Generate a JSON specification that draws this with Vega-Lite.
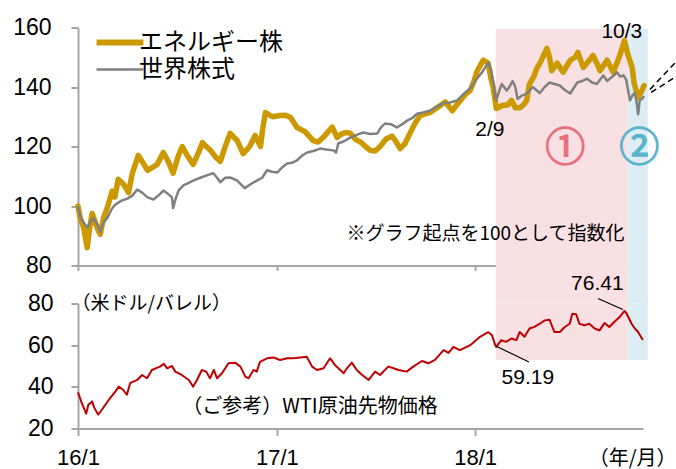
{
"$schema":"https://vega.github.io/schema/vega-lite/v6.json",
"padding":{"left":12,"top":16.5,"right":0,"bottom":0},
"autosize":{"type":"pad"},
"background":"white",
"spacing":38,
"bounds":"flush",
"config":{
 "view":{"stroke":null},
 "axis":{"domainColor":"#A6A6A6","domainWidth":2,"tickColor":"#A6A6A6","tickWidth":2,"grid":false,"labelFont":"Liberation Sans","labelFontSize":23,"labelColor":"#000000","zindex":1},
 "legend":{"labelFont":"Noto Sans CJK JP","labelFontSize":24,"labelColor":"#000000","labelLimit":300}
},
"datasets":{
"shades":[{"period":"①","start":"2018-02-08","end":"2018-10-09"},{"period":"②","start":"2018-10-09","end":"2018-11-15"}],
"stocks":[
{"date":"2016-01-01","series":"エネルギー株","value":100},
{"date":"2016-01-05","series":"エネルギー株","value":96},
{"date":"2016-01-11","series":"エネルギー株","value":93},
{"date":"2016-01-14","series":"エネルギー株","value":90},
{"date":"2016-01-18","series":"エネルギー株","value":86},
{"date":"2016-01-22","series":"エネルギー株","value":92},
{"date":"2016-01-27","series":"エネルギー株","value":97.5},
{"date":"2016-02-01","series":"エネルギー株","value":95},
{"date":"2016-02-07","series":"エネルギー株","value":91.8},
{"date":"2016-02-11","series":"エネルギー株","value":90.5},
{"date":"2016-02-17","series":"エネルギー株","value":96},
{"date":"2016-02-24","series":"エネルギー株","value":99.5},
{"date":"2016-03-04","series":"エネルギー株","value":105},
{"date":"2016-03-09","series":"エネルギー株","value":103},
{"date":"2016-03-15","series":"エネルギー株","value":109},
{"date":"2016-03-24","series":"エネルギー株","value":107.5},
{"date":"2016-04-03","series":"エネルギー株","value":104.5},
{"date":"2016-04-10","series":"エネルギー株","value":111},
{"date":"2016-04-21","series":"エネルギー株","value":117},
{"date":"2016-04-28","series":"エネルギー株","value":115},
{"date":"2016-05-08","series":"エネルギー株","value":112},
{"date":"2016-05-17","series":"エネルギー株","value":113},
{"date":"2016-05-26","series":"エネルギー株","value":114},
{"date":"2016-06-06","series":"エネルギー株","value":118},
{"date":"2016-06-15","series":"エネルギー株","value":115},
{"date":"2016-06-24","series":"エネルギー株","value":111},
{"date":"2016-07-04","series":"エネルギー株","value":117},
{"date":"2016-07-11","series":"エネルギー株","value":120},
{"date":"2016-07-20","series":"エネルギー株","value":117},
{"date":"2016-07-31","series":"エネルギー株","value":114},
{"date":"2016-08-10","series":"エネルギー株","value":118},
{"date":"2016-08-17","series":"エネルギー株","value":121.3},
{"date":"2016-08-24","series":"エネルギー株","value":120},
{"date":"2016-09-01","series":"エネルギー株","value":118.7},
{"date":"2016-09-10","series":"エネルギー株","value":116.5},
{"date":"2016-09-19","series":"エネルギー株","value":115},
{"date":"2016-09-28","series":"エネルギー株","value":120},
{"date":"2016-10-07","series":"エネルギー株","value":124.4},
{"date":"2016-10-20","series":"エネルギー株","value":122},
{"date":"2016-10-31","series":"エネルギー株","value":117.6},
{"date":"2016-11-12","series":"エネルギー株","value":120},
{"date":"2016-11-22","series":"エネルギー株","value":123.7},
{"date":"2016-12-02","series":"エネルギー株","value":120},
{"date":"2016-12-06","series":"エネルギー株","value":126},
{"date":"2016-12-11","series":"エネルギー株","value":131.4},
{"date":"2016-12-24","series":"エネルギー株","value":130},
{"date":"2017-01-07","series":"エネルギー株","value":130.4},
{"date":"2017-01-17","series":"エネルギー株","value":130.5},
{"date":"2017-01-26","series":"エネルギー株","value":129.8},
{"date":"2017-02-07","series":"エネルギー株","value":126.4},
{"date":"2017-02-22","series":"エネルギー株","value":125},
{"date":"2017-03-09","series":"エネルギー株","value":122},
{"date":"2017-03-18","series":"エネルギー株","value":121.5},
{"date":"2017-03-27","series":"エネルギー株","value":123},
{"date":"2017-04-13","series":"エネルギー株","value":126.5},
{"date":"2017-04-22","series":"エネルギー株","value":123},
{"date":"2017-04-28","series":"エネルギー株","value":124},
{"date":"2017-05-07","series":"エネルギー株","value":124.7},
{"date":"2017-05-16","series":"エネルギー株","value":124.5},
{"date":"2017-05-25","series":"エネルギー株","value":122.5},
{"date":"2017-06-04","series":"エネルギー株","value":121.5},
{"date":"2017-06-13","series":"エネルギー株","value":120},
{"date":"2017-06-22","series":"エネルギー株","value":118.7},
{"date":"2017-07-01","series":"エネルギー株","value":118.5},
{"date":"2017-07-10","series":"エネルギー株","value":120},
{"date":"2017-07-21","series":"エネルギー株","value":122.5},
{"date":"2017-08-01","series":"エネルギー株","value":123.5},
{"date":"2017-08-09","series":"エネルギー株","value":121.5},
{"date":"2017-08-16","series":"エネルギー株","value":119.3},
{"date":"2017-08-25","series":"エネルギー株","value":121},
{"date":"2017-09-03","series":"エネルギー株","value":124.4},
{"date":"2017-09-13","series":"エネルギー株","value":128},
{"date":"2017-09-22","series":"エネルギー株","value":130.4},
{"date":"2017-10-01","series":"エネルギー株","value":131},
{"date":"2017-10-10","series":"エネルギー株","value":131.4},
{"date":"2017-10-23","series":"エネルギー株","value":133},
{"date":"2017-11-07","series":"エネルギー株","value":135},
{"date":"2017-11-20","series":"エネルギー株","value":132},
{"date":"2017-11-28","series":"エネルギー株","value":134},
{"date":"2017-12-05","series":"エネルギー株","value":135.5},
{"date":"2017-12-14","series":"エネルギー株","value":137.5},
{"date":"2017-12-23","series":"エネルギー株","value":138.8},
{"date":"2017-12-30","series":"エネルギー株","value":142},
{"date":"2018-01-05","series":"エネルギー株","value":145.5},
{"date":"2018-01-16","series":"エネルギー株","value":149},
{"date":"2018-01-25","series":"エネルギー株","value":148},
{"date":"2018-01-30","series":"エネルギー株","value":143},
{"date":"2018-02-03","series":"エネルギー株","value":140},
{"date":"2018-02-09","series":"エネルギー株","value":132.8},
{"date":"2018-02-20","series":"エネルギー株","value":133.8},
{"date":"2018-03-02","series":"エネルギー株","value":134},
{"date":"2018-03-09","series":"エネルギー株","value":135.5},
{"date":"2018-03-16","series":"エネルギー株","value":133},
{"date":"2018-03-24","series":"エネルギー株","value":133},
{"date":"2018-03-31","series":"エネルギー株","value":134},
{"date":"2018-04-06","series":"エネルギー株","value":135.5},
{"date":"2018-04-11","series":"エネルギー株","value":141},
{"date":"2018-04-19","series":"エネルギー株","value":143.5},
{"date":"2018-04-24","series":"エネルギー株","value":146},
{"date":"2018-05-03","series":"エネルギー株","value":149},
{"date":"2018-05-13","series":"エネルギー株","value":153},
{"date":"2018-05-18","series":"エネルギー株","value":150},
{"date":"2018-05-22","series":"エネルギー株","value":145.5},
{"date":"2018-06-01","series":"エネルギー株","value":148},
{"date":"2018-06-12","series":"エネルギー株","value":145},
{"date":"2018-06-25","series":"エネルギー株","value":149},
{"date":"2018-07-04","series":"エネルギー株","value":150},
{"date":"2018-07-09","series":"エネルギー株","value":151.6},
{"date":"2018-07-19","series":"エネルギー株","value":146.6},
{"date":"2018-07-28","series":"エネルギー株","value":148.5},
{"date":"2018-08-06","series":"エネルギー株","value":150.6},
{"date":"2018-08-13","series":"エネルギー株","value":148},
{"date":"2018-08-19","series":"エネルギー株","value":145.5},
{"date":"2018-09-01","series":"エネルギー株","value":149},
{"date":"2018-09-12","series":"エネルギー株","value":145},
{"date":"2018-09-19","series":"エネルギー株","value":148},
{"date":"2018-09-25","series":"エネルギー株","value":151},
{"date":"2018-10-03","series":"エネルギー株","value":155.6},
{"date":"2018-10-09","series":"エネルギー株","value":151},
{"date":"2018-10-17","series":"エネルギー株","value":146.6},
{"date":"2018-10-21","series":"エネルギー株","value":141},
{"date":"2018-10-28","series":"エネルギー株","value":136.5},
{"date":"2018-11-04","series":"エネルギー株","value":138.8},
{"date":"2018-11-08","series":"エネルギー株","value":140.5},
{"date":"2016-01-01","series":"世界株式","value":100},
{"date":"2016-01-05","series":"世界株式","value":96.5},
{"date":"2016-01-11","series":"世界株式","value":94.5},
{"date":"2016-01-18","series":"世界株式","value":92.8},
{"date":"2016-01-29","series":"世界株式","value":96},
{"date":"2016-02-05","series":"世界株式","value":94},
{"date":"2016-02-11","series":"世界株式","value":91.3},
{"date":"2016-02-17","series":"世界株式","value":94.5},
{"date":"2016-02-24","series":"世界株式","value":96},
{"date":"2016-03-03","series":"世界株式","value":99},
{"date":"2016-03-10","series":"世界株式","value":100.5},
{"date":"2016-03-21","series":"世界株式","value":101.8},
{"date":"2016-04-01","series":"世界株式","value":102.5},
{"date":"2016-04-10","series":"世界株式","value":103.5},
{"date":"2016-04-19","series":"世界株式","value":105.5},
{"date":"2016-04-28","series":"世界株式","value":104.5},
{"date":"2016-05-08","series":"世界株式","value":102.9},
{"date":"2016-05-19","series":"世界株式","value":102.2},
{"date":"2016-05-28","series":"世界株式","value":103.5},
{"date":"2016-06-06","series":"世界株式","value":105.2},
{"date":"2016-06-15","series":"世界株式","value":104},
{"date":"2016-06-22","series":"世界株式","value":102.9},
{"date":"2016-06-24","series":"世界株式","value":99.3},
{"date":"2016-06-28","series":"世界株式","value":102},
{"date":"2016-07-04","series":"世界株式","value":105.2},
{"date":"2016-07-13","series":"世界株式","value":106.9},
{"date":"2016-07-20","series":"世界株式","value":107.5},
{"date":"2016-07-31","series":"世界株式","value":108.5},
{"date":"2016-08-13","series":"世界株式","value":109.5},
{"date":"2016-08-25","series":"世界株式","value":110.3},
{"date":"2016-09-06","series":"世界株式","value":111},
{"date":"2016-09-13","series":"世界株式","value":109.5},
{"date":"2016-09-19","series":"世界株式","value":108},
{"date":"2016-09-28","series":"世界株式","value":109.5},
{"date":"2016-10-07","series":"世界株式","value":109.6},
{"date":"2016-10-20","series":"世界株式","value":108.5},
{"date":"2016-11-03","series":"世界株式","value":106},
{"date":"2016-11-15","series":"世界株式","value":107.5},
{"date":"2016-11-26","series":"世界株式","value":108.6},
{"date":"2016-12-05","series":"世界株式","value":109.5},
{"date":"2016-12-14","series":"世界株式","value":112},
{"date":"2016-12-23","series":"世界株式","value":111.5},
{"date":"2017-01-02","series":"世界株式","value":111.3},
{"date":"2017-01-11","series":"世界株式","value":113},
{"date":"2017-01-20","series":"世界株式","value":114.3},
{"date":"2017-01-29","series":"世界株式","value":114.5},
{"date":"2017-02-07","series":"世界株式","value":115.3},
{"date":"2017-02-17","series":"世界株式","value":117},
{"date":"2017-02-26","series":"世界株式","value":118},
{"date":"2017-03-09","series":"世界株式","value":118.5},
{"date":"2017-03-22","series":"世界株式","value":119.3},
{"date":"2017-04-02","series":"世界株式","value":119},
{"date":"2017-04-15","series":"世界株式","value":118.7},
{"date":"2017-04-20","series":"世界株式","value":118},
{"date":"2017-04-24","series":"世界株式","value":121},
{"date":"2017-05-07","series":"世界株式","value":122},
{"date":"2017-05-16","series":"世界株式","value":123},
{"date":"2017-05-29","series":"世界株式","value":124},
{"date":"2017-06-09","series":"世界株式","value":124.7},
{"date":"2017-06-22","series":"世界株式","value":124.2},
{"date":"2017-07-05","series":"世界株式","value":124.4},
{"date":"2017-07-12","series":"世界株式","value":126.5},
{"date":"2017-07-19","series":"世界株式","value":127.7},
{"date":"2017-07-30","series":"世界株式","value":127.5},
{"date":"2017-08-10","series":"世界株式","value":126.4},
{"date":"2017-08-20","series":"世界株式","value":127.5},
{"date":"2017-08-29","series":"世界株式","value":128.7},
{"date":"2017-09-07","series":"世界株式","value":129.5},
{"date":"2017-09-16","series":"世界株式","value":131},
{"date":"2017-09-27","series":"世界株式","value":131.4},
{"date":"2017-10-10","series":"世界株式","value":132},
{"date":"2017-10-23","series":"世界株式","value":133.5},
{"date":"2017-11-03","series":"世界株式","value":134.5},
{"date":"2017-11-16","series":"世界株式","value":134.8},
{"date":"2017-11-29","series":"世界株式","value":135.5},
{"date":"2017-12-10","series":"世界株式","value":137.5},
{"date":"2017-12-23","series":"世界株式","value":139.5},
{"date":"2018-01-03","series":"世界株式","value":142.5},
{"date":"2018-01-14","series":"世界株式","value":145},
{"date":"2018-01-25","series":"世界株式","value":148.2},
{"date":"2018-01-30","series":"世界株式","value":146},
{"date":"2018-02-03","series":"世界株式","value":142},
{"date":"2018-02-07","series":"世界株式","value":137},
{"date":"2018-02-09","series":"世界株式","value":135.5},
{"date":"2018-02-15","series":"世界株式","value":139},
{"date":"2018-02-19","series":"世界株式","value":141},
{"date":"2018-02-28","series":"世界株式","value":138.8},
{"date":"2018-03-05","series":"世界株式","value":140},
{"date":"2018-03-11","series":"世界株式","value":142},
{"date":"2018-03-16","series":"世界株式","value":140},
{"date":"2018-03-20","series":"世界株式","value":136},
{"date":"2018-03-27","series":"世界株式","value":137},
{"date":"2018-04-06","series":"世界株式","value":137.8},
{"date":"2018-04-17","series":"世界株式","value":140},
{"date":"2018-04-30","series":"世界株式","value":138},
{"date":"2018-05-09","series":"世界株式","value":140},
{"date":"2018-05-18","series":"世界株式","value":141.5},
{"date":"2018-05-27","series":"世界株式","value":141},
{"date":"2018-06-06","series":"世界株式","value":140.5},
{"date":"2018-06-15","series":"世界株式","value":139},
{"date":"2018-06-25","series":"世界株式","value":137.8},
{"date":"2018-07-08","series":"世界株式","value":141.5},
{"date":"2018-07-17","series":"世界株式","value":142},
{"date":"2018-07-26","series":"世界株式","value":142.8},
{"date":"2018-08-04","series":"世界株式","value":141.5},
{"date":"2018-08-13","series":"世界株式","value":141},
{"date":"2018-08-25","series":"世界株式","value":143.9},
{"date":"2018-09-01","series":"世界株式","value":142},
{"date":"2018-09-06","series":"世界株式","value":142.8},
{"date":"2018-09-14","series":"世界株式","value":144},
{"date":"2018-09-19","series":"世界株式","value":145},
{"date":"2018-09-25","series":"世界株式","value":143.5},
{"date":"2018-10-01","series":"世界株式","value":143.9},
{"date":"2018-10-06","series":"世界株式","value":142.5},
{"date":"2018-10-09","series":"世界株式","value":139.5},
{"date":"2018-10-13","series":"世界株式","value":135.5},
{"date":"2018-10-17","series":"世界株式","value":137},
{"date":"2018-10-22","series":"世界株式","value":138},
{"date":"2018-10-26","series":"世界株式","value":134},
{"date":"2018-10-28","series":"世界株式","value":130.8},
{"date":"2018-10-31","series":"世界株式","value":135.5},
{"date":"2018-11-04","series":"世界株式","value":136},
{"date":"2018-11-08","series":"世界株式","value":137}
],
"wti":[
{"date":"2016-01-01","value":37.3},
{"date":"2016-01-08","value":32.2},
{"date":"2016-01-16","value":27.1},
{"date":"2016-01-20","value":31.4},
{"date":"2016-01-27","value":33},
{"date":"2016-01-31","value":29.9},
{"date":"2016-02-07","value":26.7},
{"date":"2016-02-14","value":29},
{"date":"2016-02-22","value":32},
{"date":"2016-02-29","value":34.6},
{"date":"2016-03-10","value":37.8},
{"date":"2016-03-16","value":40.1},
{"date":"2016-03-24","value":38.6},
{"date":"2016-03-31","value":36.2},
{"date":"2016-04-06","value":41.8},
{"date":"2016-04-19","value":43.3},
{"date":"2016-04-28","value":45.7},
{"date":"2016-05-07","value":44.1},
{"date":"2016-05-16","value":48.1},
{"date":"2016-05-24","value":49},
{"date":"2016-05-31","value":49.7},
{"date":"2016-06-07","value":51},
{"date":"2016-06-13","value":48.9},
{"date":"2016-06-22","value":50},
{"date":"2016-06-28","value":47.3},
{"date":"2016-07-10","value":45.7},
{"date":"2016-07-23","value":43.3},
{"date":"2016-07-31","value":40.1},
{"date":"2016-08-07","value":43.3},
{"date":"2016-08-16","value":48.1},
{"date":"2016-08-24","value":47.3},
{"date":"2016-08-31","value":44.1},
{"date":"2016-09-07","value":48.1},
{"date":"2016-09-13","value":44.1},
{"date":"2016-09-22","value":46.5},
{"date":"2016-10-04","value":51.3},
{"date":"2016-10-16","value":51.6},
{"date":"2016-10-26","value":49.7},
{"date":"2016-11-04","value":44.9},
{"date":"2016-11-10","value":44.1},
{"date":"2016-11-19","value":48.1},
{"date":"2016-11-25","value":47.3},
{"date":"2016-12-01","value":52},
{"date":"2016-12-14","value":53.7},
{"date":"2016-12-26","value":54.1},
{"date":"2017-01-07","value":52.9},
{"date":"2017-01-20","value":53.7},
{"date":"2017-02-01","value":53.7},
{"date":"2017-02-13","value":54.1},
{"date":"2017-02-25","value":54.4},
{"date":"2017-03-07","value":49.7},
{"date":"2017-03-16","value":48.1},
{"date":"2017-03-28","value":48.9},
{"date":"2017-04-09","value":53.7},
{"date":"2017-04-18","value":50.5},
{"date":"2017-05-04","value":46.5},
{"date":"2017-05-10","value":48.9},
{"date":"2017-05-19","value":51.6},
{"date":"2017-05-28","value":48.1},
{"date":"2017-06-07","value":45.7},
{"date":"2017-06-19","value":43.3},
{"date":"2017-07-01","value":47.3},
{"date":"2017-07-10","value":45.7},
{"date":"2017-07-25","value":49.7},
{"date":"2017-08-04","value":48.9},
{"date":"2017-08-13","value":48.1},
{"date":"2017-08-28","value":47.3},
{"date":"2017-09-09","value":49.7},
{"date":"2017-09-25","value":52.4},
{"date":"2017-10-07","value":51.3},
{"date":"2017-10-19","value":52.9},
{"date":"2017-11-04","value":57.6},
{"date":"2017-11-13","value":56.3},
{"date":"2017-11-22","value":59.2},
{"date":"2017-12-01","value":58},
{"date":"2017-12-04","value":57.6},
{"date":"2017-12-23","value":60},
{"date":"2018-01-10","value":64},
{"date":"2018-01-25","value":66.3},
{"date":"2018-02-01","value":64.8},
{"date":"2018-02-07","value":60},
{"date":"2018-02-09","value":59.19},
{"date":"2018-02-18","value":62.4},
{"date":"2018-02-27","value":61.6},
{"date":"2018-03-09","value":63.2},
{"date":"2018-03-18","value":62.4},
{"date":"2018-03-24","value":66.3},
{"date":"2018-04-02","value":64},
{"date":"2018-04-11","value":68},
{"date":"2018-04-20","value":68.8},
{"date":"2018-04-30","value":70.3},
{"date":"2018-05-09","value":71.9},
{"date":"2018-05-18","value":72.2},
{"date":"2018-05-27","value":66.3},
{"date":"2018-06-06","value":66.3},
{"date":"2018-06-15","value":68.7},
{"date":"2018-06-24","value":70.3},
{"date":"2018-06-29","value":75.1},
{"date":"2018-07-06","value":74.8},
{"date":"2018-07-12","value":70.3},
{"date":"2018-07-21","value":69.5},
{"date":"2018-07-30","value":70.3},
{"date":"2018-08-09","value":68},
{"date":"2018-08-18","value":67.1},
{"date":"2018-08-27","value":70.6},
{"date":"2018-09-05","value":68.7},
{"date":"2018-09-14","value":71.1},
{"date":"2018-09-24","value":73.5},
{"date":"2018-10-03","value":76.41},
{"date":"2018-10-07","value":75.1},
{"date":"2018-10-16","value":70.3},
{"date":"2018-10-22","value":68},
{"date":"2018-10-28","value":66.3},
{"date":"2018-11-04","value":63.2},
{"date":"2018-11-06","value":62.5}
]
},
"vconcat":[
{
"width":565,"height":238,
"layer":[
 {"data":{"name":"shades"},"mark":{"type":"rect"},
  "encoding":{
   "x":{"field":"start","type":"temporal","scale":{"type":"utc","domain":[{"year":2016,"month":1,"date":1,"utc":true},{"year":2018,"month":11,"date":6,"utc":true}]},
        "axis":{"title":null,"values":[{"year":2016,"month":1,"date":1,"utc":true},{"year":2017,"month":1,"date":1,"utc":true},{"year":2018,"month":1,"date":1,"utc":true}],"labels":false,"tickSize":5}},
   "x2":{"field":"end"},
   "y":{"datum":159.5,"type":"quantitative","scale":{"domain":[80,160],"nice":false},
        "axis":{"title":null,"values":[80,100,120,140,160],"tickSize":7,"labelPadding":20}},
   "y2":{"datum":67.2},
   "fill":{"field":"period","type":"nominal","scale":{"domain":["①","②"],"range":["#F9E0E3","#DCEEF3"]},"legend":null}
  }},
 {"data":{"name":"stocks"},"transform":[{"filter":"datum.series === 'エネルギー株'"}],
  "mark":{"type":"line","strokeWidth":5.5,"strokeCap":"round","strokeJoin":"round"},
  "encoding":{
   "x":{"field":"date","type":"temporal","title":null,"scale":{"type":"utc","domain":[{"year":2016,"month":1,"date":1,"utc":true},{"year":2018,"month":11,"date":6,"utc":true}]}},
   "y":{"field":"value","type":"quantitative","title":null,"scale":{"domain":[80,160],"nice":false}},
   "color":{"field":"series","type":"nominal","scale":{"domain":["エネルギー株","世界株式"],"range":["#CC9900","#808080"]},
     "legend":{"orient":"none","legendX":30,"legendY":3,"title":null,"labelFont":"Noto Sans CJK JP","labelFontSize":24,"labelColor":"#000000","symbolType":"stroke","symbolSize":2200,"symbolStrokeWidth":4,"labelOffset":7,"rowPadding":3,"padding":0,
       "encode":{"symbols":{"update":{"strokeWidth":{"signal":"datum.value === 'エネルギー株' ? 6 : 2.5"}}}}}}
  }},
 {"data":{"name":"stocks"},"transform":[{"filter":"datum.series === '世界株式'"}],
  "mark":{"type":"line","strokeWidth":2.5,"strokeJoin":"round"},
  "encoding":{
   "x":{"field":"date","type":"temporal","title":null,"scale":{"type":"utc","domain":[{"year":2016,"month":1,"date":1,"utc":true},{"year":2018,"month":11,"date":6,"utc":true}]}},
   "y":{"field":"value","type":"quantitative","title":null,"scale":{"domain":[80,160],"nice":false}},
   "color":{"field":"series","type":"nominal","scale":{"domain":["エネルギー株","世界株式"],"range":["#CC9900","#808080"]},
     "legend":{"orient":"none","legendX":30,"legendY":3,"title":null,"labelFont":"Noto Sans CJK JP","labelFontSize":24,"labelColor":"#000000","symbolType":"stroke","symbolSize":2200,"symbolStrokeWidth":4,"labelOffset":7,"rowPadding":3,"padding":0,
       "encode":{"symbols":{"update":{"strokeWidth":{"signal":"datum.value === 'エネルギー株' ? 6 : 2.5"}}}}}}
  }},
 {"data":{"values":[{"label":"10/3","date":"2018-09-28","value":158.6},{"label":"2/9","date":"2018-01-28","value":125.5}]},
  "mark":{"type":"text","font":"Liberation Sans","fontSize":21,"align":"center","baseline":"middle","color":"#000000"},
  "encoding":{
   "x":{"field":"date","type":"temporal","title":null,"scale":{"type":"utc","domain":[{"year":2016,"month":1,"date":1,"utc":true},{"year":2018,"month":11,"date":6,"utc":true}]}},
   "y":{"field":"value","type":"quantitative","title":null,"scale":{"domain":[80,160],"nice":false}},
   "text":{"field":"label"}}},
 {"data":{"values":[{"label":"①","date":"2018-06-16","value":119}]},
  "mark":{"type":"text","font":"Noto Sans CJK JP","fontSize":40,"align":"center","baseline":"middle","color":"#E8707F","stroke":"#E8707F","strokeWidth":1.3},
  "encoding":{
   "x":{"field":"date","type":"temporal","title":null,"scale":{"type":"utc","domain":[{"year":2016,"month":1,"date":1,"utc":true},{"year":2018,"month":11,"date":6,"utc":true}]}},
   "y":{"field":"value","type":"quantitative","title":null,"scale":{"domain":[80,160],"nice":false}},
   "text":{"field":"label"}}},
 {"data":{"values":[{"label":"②","date":"2018-10-30","value":119}]},
  "mark":{"type":"text","font":"Noto Sans CJK JP","fontSize":40,"align":"center","baseline":"middle","color":"#5BB4CE","stroke":"#5BB4CE","strokeWidth":1.3},
  "encoding":{
   "x":{"field":"date","type":"temporal","title":null,"scale":{"type":"utc","domain":[{"year":2016,"month":1,"date":1,"utc":true},{"year":2018,"month":11,"date":6,"utc":true}]}},
   "y":{"field":"value","type":"quantitative","title":null,"scale":{"domain":[80,160],"nice":false}},
   "text":{"field":"label"}}},
 {"data":{"values":[{"label":"※グラフ起点を100として指数化","date":"2017-05-09","value":90.75}]},
  "mark":{"type":"text","font":"Noto Sans CJK JP","fontSize":19,"align":"left","baseline":"middle","color":"#000000"},
  "encoding":{
   "x":{"field":"date","type":"temporal","title":null,"scale":{"type":"utc","domain":[{"year":2016,"month":1,"date":1,"utc":true},{"year":2018,"month":11,"date":6,"utc":true}]}},
   "y":{"field":"value","type":"quantitative","title":null,"scale":{"domain":[80,160],"nice":false}},
   "text":{"field":"label"}}},
 {"data":{"values":[{"from":"2018-11-19","fromValue":139.2,"to":"2019-01-06","toValue":148.5},{"from":"2018-11-21","fromValue":138.2,"to":"2019-01-06","toValue":143.5}]},
  "mark":{"type":"rule","color":"#000000","strokeWidth":1.5,"strokeDash":[6,4]},
  "encoding":{
   "x":{"field":"from","type":"temporal","title":null,"scale":{"type":"utc","domain":[{"year":2016,"month":1,"date":1,"utc":true},{"year":2018,"month":11,"date":6,"utc":true}]}},
   "x2":{"field":"to"},
   "y":{"field":"fromValue","type":"quantitative","title":null,"scale":{"domain":[80,160],"nice":false}},
   "y2":{"field":"toValue"}}}
]
},
{
"width":565,"height":125,
"layer":[
 {"data":{"name":"shades"},"mark":{"type":"rect"},
  "encoding":{
   "x":{"field":"start","type":"temporal","scale":{"type":"utc","domain":[{"year":2016,"month":1,"date":1,"utc":true},{"year":2018,"month":11,"date":6,"utc":true}]},
        "axis":{"title":"（年/月）","values":[{"year":2016,"month":1,"date":1,"utc":true},{"year":2017,"month":1,"date":1,"utc":true},{"year":2018,"month":1,"date":1,"utc":true}],"labelExpr":"utcFormat(datum.value, '%y/%-m')","labelFlush":false,"labelOverlap":false,"labelFontSize":22,"tickSize":7,"labelPadding":12,
          "titleX":598,"titleY":30,"titleAlign":"right","titleBaseline":"middle","titleFont":"Noto Sans CJK JP","titleFontSize":20,"titleFontWeight":"normal","titleColor":"#000000"}},
   "x2":{"field":"end"},
   "y":{"datum":80,"type":"quantitative","scale":{"domain":[20,80],"nice":false},
        "axis":{"title":"（米ドル/バレル）","values":[20,40,60,80],"tickSize":7,"labelPadding":18,"titleAngle":0,"titleX":-7,"titleY":0,"titleAlign":"left","titleBaseline":"middle","titleFont":"Noto Sans CJK JP","titleFontSize":19,"titleFontWeight":"normal","titleColor":"#000000"}},
   "y2":{"datum":52.9},
   "fill":{"field":"period","type":"nominal","scale":{"domain":["①","②"],"range":["#F9E0E3","#DCEEF3"]},"legend":null}
  }},
 {"data":{"name":"wti"},
  "mark":{"type":"line","strokeWidth":2,"color":"#C00000","strokeJoin":"round"},
  "encoding":{
   "x":{"field":"date","type":"temporal","title":"（年/月）","scale":{"type":"utc","domain":[{"year":2016,"month":1,"date":1,"utc":true},{"year":2018,"month":11,"date":6,"utc":true}]}},
   "y":{"field":"value","type":"quantitative","title":"（米ドル/バレル）","scale":{"domain":[20,80],"nice":false}}
  }},
 {"data":{"values":[{"from":"2018-02-09","fromValue":59.5,"to":"2018-04-10","toValue":51.9},{"from":"2018-08-15","fromValue":82.4,"to":"2018-09-30","toValue":77.1}]},
  "mark":{"type":"rule","color":"#000000","strokeWidth":1.2},
  "encoding":{
   "x":{"field":"from","type":"temporal","title":"（年/月）","scale":{"type":"utc","domain":[{"year":2016,"month":1,"date":1,"utc":true},{"year":2018,"month":11,"date":6,"utc":true}]}},
   "x2":{"field":"to"},
   "y":{"field":"fromValue","type":"quantitative","title":"（米ドル/バレル）","scale":{"domain":[20,80],"nice":false}},
   "y2":{"field":"toValue"}}},
 {"data":{"values":[{"label":"59.19","date":"2018-04-08","value":44.3},{"label":"76.41","date":"2018-08-14","value":89.5}]},
  "mark":{"type":"text","font":"Liberation Sans","fontSize":21,"align":"center","baseline":"middle","color":"#000000"},
  "encoding":{
   "x":{"field":"date","type":"temporal","title":"（年/月）","scale":{"type":"utc","domain":[{"year":2016,"month":1,"date":1,"utc":true},{"year":2018,"month":11,"date":6,"utc":true}]}},
   "y":{"field":"value","type":"quantitative","title":"（米ドル/バレル）","scale":{"domain":[20,80],"nice":false}},
   "text":{"field":"label"}}},
 {"data":{"values":[{"label":"（ご参考）WTI原油先物価格","date":"2016-07-11","value":30.5}]},
  "mark":{"type":"text","font":"Noto Sans CJK JP","fontSize":20,"align":"left","baseline":"middle","color":"#000000"},
  "encoding":{
   "x":{"field":"date","type":"temporal","title":"（年/月）","scale":{"type":"utc","domain":[{"year":2016,"month":1,"date":1,"utc":true},{"year":2018,"month":11,"date":6,"utc":true}]}},
   "y":{"field":"value","type":"quantitative","title":"（米ドル/バレル）","scale":{"domain":[20,80],"nice":false}},
   "text":{"field":"label"}}}
]
}
]
}
